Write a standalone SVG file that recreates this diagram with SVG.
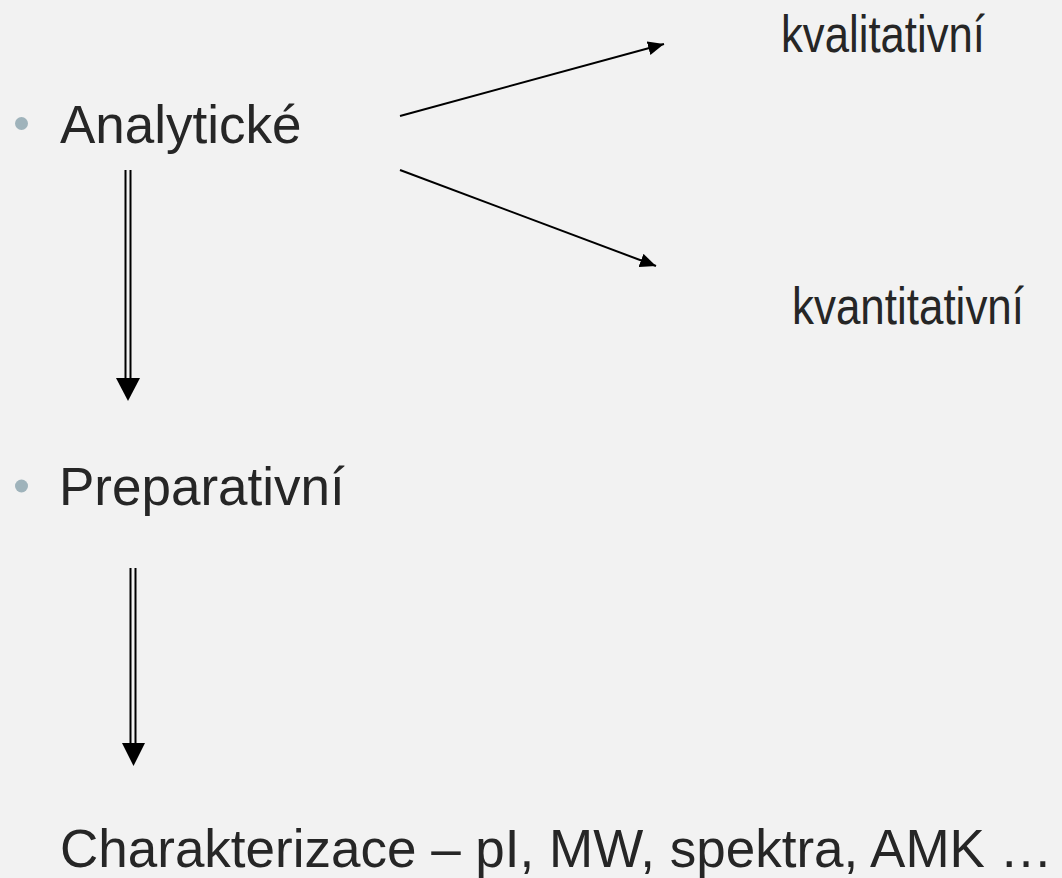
<svg xmlns="http://www.w3.org/2000/svg" width="1062" height="878" viewBox="0 0 1062 878">
<style>
.t{font-family:"Liberation Sans",Arial,sans-serif;fill:#262626}
.big{font-size:53px}
.n{font-size:52px}
.bul{fill:#9fb3bb}
.ln{stroke:#000;stroke-width:2;fill:none}
.hd{fill:#000}
</style>
<defs>
<marker id="ah" viewBox="0 0 10 10" refX="10" refY="5" markerWidth="8" markerHeight="7" markerUnits="userSpaceOnUse" orient="auto">
<path d="M0,0 L10,5 L0,10 Z" fill="#000"/>
</marker>
<marker id="ah2" viewBox="0 0 16 14" refX="16" refY="7" markerWidth="16" markerHeight="14" markerUnits="userSpaceOnUse" orient="auto">
<path d="M0,0 L16,7 L0,14 Z" fill="#000"/>
</marker>
</defs>
<rect width="1062" height="878" fill="#f2f2f2"/>
<g id="analyticke">
<circle class="bul" cx="21.5" cy="123.5" r="6.5"/>
<text class="t big" x="60" y="143">Analytické</text>
</g>
<g id="kvalitativni">
<text class="t n" x="781" y="52" textLength="204" lengthAdjust="spacingAndGlyphs">kvalitativní</text>
</g>
<g id="kvantitativni">
<text class="t n" x="792" y="324" textLength="232" lengthAdjust="spacingAndGlyphs">kvantitativní</text>
</g>
<g id="preparativni">
<circle class="bul" cx="21.5" cy="486" r="6.5"/>
<text class="t big" x="59" y="505">Preparativní</text>
</g>
<g id="charakterizace">
<text class="t big" x="60" y="867">Charakterizace – pI, MW, spektra, AMK …</text>
</g>
<g id="connectors">
<line class="ln" x1="400" y1="116" x2="664" y2="44" marker-end="url(#ah2)"/>
<line class="ln" x1="400" y1="170" x2="656" y2="266" marker-end="url(#ah2)"/>
<line class="ln" x1="125.5" y1="170" x2="125.5" y2="380"/>
<line class="ln" x1="130.5" y1="170" x2="130.5" y2="380"/>
<path class="hd" d="M116,378 L140,378 L128,401 Z"/>
<line class="ln" x1="130.5" y1="568" x2="130.5" y2="745"/>
<line class="ln" x1="135.5" y1="568" x2="135.5" y2="745"/>
<path class="hd" d="M122,743 L145,743 L133.5,766 Z"/>
</g>
</svg>
